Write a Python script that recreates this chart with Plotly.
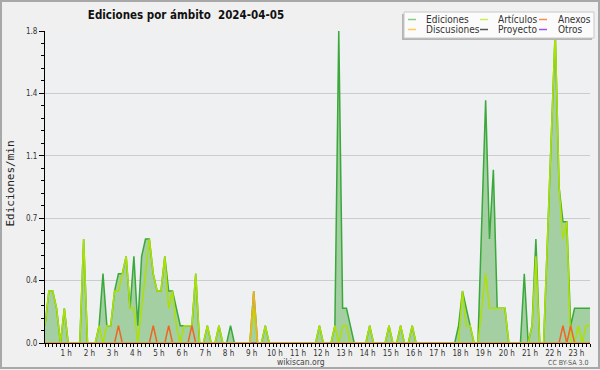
import plotly.graph_objects as go

# ---------------- data (10-minute bins, 00:00 .. 23:30) ----------------
series_names = ["Ediciones", "Artículos", "Anexos", "Discusiones", "Proyecto", "Otros"]

ediciones = [
    0.1, 0.3, 0.3, 0.2, 0.0, 0.2, 0.0, 0.0, 0.0, 0.0, 0.6, 0.0,
    0.0, 0.0, 0.1, 0.4, 0.1, 0.1, 0.3, 0.4, 0.4, 0.5, 0.2, 0.5,
    0.1, 0.5, 0.6, 0.6, 0.4, 0.3, 0.3, 0.5, 0.3, 0.3, 0.2, 0.1,
    0.1, 0.1, 0.1, 0.4, 0.0, 0.0, 0.1, 0.0, 0.0, 0.1, 0.0, 0.0,
    0.1, 0.0, 0.0, 0.0, 0.0, 0.0, 0.3, 0.0, 0.0, 0.1, 0.0, 0.0,
    0.0, 0.0, 0.0, 0.0, 0.0, 0.0, 0.0, 0.0, 0.0, 0.0, 0.0, 0.1,
    0.0, 0.0, 0.0, 0.1, 1.8, 0.2, 0.2, 0.1, 0.0, 0.0, 0.0, 0.0,
    0.1, 0.0, 0.0, 0.0, 0.0, 0.1, 0.0, 0.0, 0.1, 0.0, 0.0, 0.1,
    0.0, 0.0, 0.0, 0.0, 0.0, 0.0, 0.0, 0.0, 0.0, 0.0, 0.0, 0.1,
    0.3, 0.2, 0.1, 0.0, 0.0, 0.7, 1.4, 0.6, 1.0, 0.2, 0.2, 0.2,
    0.0, 0.0, 0.0, 0.0, 0.4, 0.0, 0.1, 0.6, 0.0, 0.0, 0.6, 1.2,
    1.8, 0.9, 0.7, 0.7, 0.1, 0.2, 0.2, 0.2, 0.2, 0.2,
]

articulos = [
    0.1, 0.3, 0.3, 0.2, 0.0, 0.2, 0.0, 0.0, 0.0, 0.0, 0.6, 0.0,
    0.0, 0.0, 0.1, 0.0, 0.1, 0.1, 0.3, 0.3, 0.4, 0.5, 0.2, 0.2,
    0.0, 0.2, 0.4, 0.6, 0.4, 0.3, 0.3, 0.5, 0.2, 0.3, 0.1, 0.0,
    0.1, 0.1, 0.1, 0.4, 0.0, 0.0, 0.1, 0.0, 0.0, 0.1, 0.0, 0.0,
    0.0, 0.0, 0.0, 0.0, 0.0, 0.0, 0.2, 0.0, 0.0, 0.1, 0.0, 0.0,
    0.0, 0.0, 0.0, 0.0, 0.0, 0.0, 0.0, 0.0, 0.0, 0.0, 0.0, 0.1,
    0.0, 0.0, 0.0, 0.1, 0.0, 0.1, 0.1, 0.0, 0.0, 0.0, 0.0, 0.0,
    0.1, 0.0, 0.0, 0.0, 0.0, 0.1, 0.0, 0.0, 0.1, 0.0, 0.0, 0.1,
    0.0, 0.0, 0.0, 0.0, 0.0, 0.0, 0.0, 0.0, 0.0, 0.0, 0.0, 0.0,
    0.3, 0.1, 0.1, 0.0, 0.0, 0.2, 0.4, 0.2, 0.2, 0.2, 0.2, 0.2,
    0.0, 0.0, 0.0, 0.0, 0.0, 0.0, 0.1, 0.5, 0.0, 0.0, 0.6, 1.2,
    1.8, 0.9, 0.6, 0.7, 0.0, 0.0, 0.1, 0.0, 0.1, 0.1,
]

anexos = [
    0.0, 0.0, 0.0, 0.0, 0.0, 0.0, 0.0, 0.0, 0.0, 0.0, 0.0, 0.0,
    0.0, 0.0, 0.0, 0.0, 0.0, 0.0, 0.0, 0.1, 0.0, 0.0, 0.0, 0.0,
    0.0, 0.0, 0.0, 0.0, 0.1, 0.0, 0.0, 0.0, 0.1, 0.0, 0.0, 0.0,
    0.0, 0.0, 0.1, 0.0, 0.0, 0.0, 0.0, 0.0, 0.0, 0.0, 0.0, 0.0,
    0.0, 0.0, 0.0, 0.0, 0.0, 0.0, 0.0, 0.0, 0.0, 0.0, 0.0, 0.0,
    0.0, 0.0, 0.0, 0.0, 0.0, 0.0, 0.0, 0.0, 0.0, 0.0, 0.0, 0.0,
    0.0, 0.0, 0.0, 0.0, 0.0, 0.0, 0.0, 0.0, 0.0, 0.0, 0.0, 0.0,
    0.0, 0.0, 0.0, 0.0, 0.0, 0.0, 0.0, 0.0, 0.0, 0.0, 0.0, 0.0,
    0.0, 0.0, 0.0, 0.0, 0.0, 0.0, 0.0, 0.0, 0.0, 0.0, 0.0, 0.0,
    0.0, 0.0, 0.0, 0.0, 0.0, 0.0, 0.0, 0.0, 0.0, 0.0, 0.0, 0.0,
    0.0, 0.0, 0.0, 0.0, 0.0, 0.0, 0.0, 0.0, 0.0, 0.0, 0.0, 0.0,
    0.0, 0.0, 0.1, 0.0, 0.1, 0.0, 0.0, 0.0, 0.0, 0.0,
]

discusiones = [
    0.0, 0.0, 0.0, 0.0, 0.0, 0.0, 0.0, 0.0, 0.0, 0.0, 0.0, 0.0,
    0.0, 0.0, 0.0, 0.0, 0.0, 0.0, 0.0, 0.0, 0.0, 0.0, 0.0, 0.0,
    0.0, 0.0, 0.0, 0.0, 0.0, 0.0, 0.0, 0.0, 0.0, 0.0, 0.0, 0.0,
    0.0, 0.0, 0.0, 0.0, 0.0, 0.0, 0.0, 0.0, 0.0, 0.0, 0.0, 0.0,
    0.0, 0.0, 0.0, 0.0, 0.0, 0.0, 0.3, 0.0, 0.0, 0.0, 0.0, 0.0,
    0.0, 0.0, 0.0, 0.0, 0.0, 0.0, 0.0, 0.0, 0.0, 0.0, 0.0, 0.0,
    0.0, 0.0, 0.0, 0.0, 0.0, 0.0, 0.0, 0.0, 0.0, 0.0, 0.0, 0.0,
    0.0, 0.0, 0.0, 0.0, 0.0, 0.0, 0.0, 0.0, 0.0, 0.0, 0.0, 0.0,
    0.0, 0.0, 0.0, 0.0, 0.0, 0.0, 0.0, 0.0, 0.0, 0.0, 0.0, 0.0,
    0.0, 0.0, 0.0, 0.0, 0.0, 0.0, 0.0, 0.0, 0.0, 0.0, 0.0, 0.0,
    0.0, 0.0, 0.0, 0.0, 0.0, 0.0, 0.0, 0.0, 0.0, 0.0, 0.0, 0.0,
    0.0, 0.0, 0.0, 0.0, 0.0, 0.0, 0.0, 0.0, 0.0, 0.0,
]

proyecto = [0.0 for _ in ediciones]
otros = [0.0 for _ in ediciones]

hour_labels = ["1 h", "2 h", "3 h", "4 h", "5 h", "6 h", "7 h", "8 h", "9 h", "10 h",
               "11 h", "12 h", "13 h", "14 h", "15 h", "16 h", "17 h", "18 h", "19 h",
               "20 h", "21 h", "22 h", "23 h"]
hour_positions = [6, 12, 18, 24, 30, 36, 42, 48, 54, 60, 66, 72, 78, 84, 90, 96,
                  102, 108, 114, 120, 126, 132, 138]

y_tickvals = [0.0, 0.36, 0.72, 1.08, 1.44, 1.8]
y_ticktext = ["0.0", "0.4", "0.7", "1.1", "1.4", "1.8"]

# ---------------- styling ----------------
line_colors = {"Ediciones": "#3aa83a", "Artículos": "#aee000", "Anexos": "#ee6622",
               "Discusiones": "#f0b020", "Proyecto": "#555555", "Otros": "#9944ee"}
legend_colors = ["#88cc88", "#c8ee55", "#ff8855", "#ffcc55", "#555555", "#9955ee"]

W, H = 600, 370
L, R, T, B = 45, 590, 31, 343
COND = "DejaVu Sans Condensed, Liberation Sans, sans-serif"


def pxx(xp):
    return (xp - L) / (R - L)


def pxy(yp):
    return (B - yp) / (B - T)


x = list(range(len(ediciones)))

fig = go.Figure()
fig.add_trace(go.Scatter(x=x, y=ediciones, mode="lines", fill="tozeroy",
                         fillcolor="#a3cfa3",
                         line=dict(color=line_colors["Ediciones"], width=1.5),
                         name="Ediciones", hoverinfo="skip"))
for name, vals in [("Proyecto", proyecto), ("Otros", otros), ("Artículos", articulos),
                   ("Anexos", anexos), ("Discusiones", discusiones)]:
    fig.add_trace(go.Scatter(x=x, y=vals, mode="lines",
                             line=dict(color=line_colors[name], width=1.5),
                             name=name, hoverinfo="skip"))

fig.update_layout(
    width=W, height=H,
    margin=dict(l=L, r=W - R, t=T, b=H - B),
    paper_bgcolor="#f0f0f0", plot_bgcolor="#eef0f2",
    showlegend=False,
    title=dict(text="<b>Ediciones por ámbito\u00a0 2024-04-05</b>",
               x=186 / W, xref="container", xanchor="center",
               y=1 - 15 / H, yref="container", yanchor="middle",
               font=dict(family=COND, size=11.5, color="#111111")),
)

fig.update_xaxes(
    range=[0, len(ediciones) - 1], showgrid=False, zeroline=False,
    showline=True, linecolor="black", linewidth=1,
    tickvals=hour_positions, ticktext=hour_labels,
    ticks="outside", ticklen=3, tickcolor="black", tickwidth=1,
    ticklabelshift=-2, ticklabelstandoff=-1,
    tickfont=dict(family=COND, size=8, color="#333333"),
    minor=dict(tick0=0, dtick=1, ticks="outside", ticklen=3, tickcolor="black",
               tickwidth=1, showgrid=False),
)
fig.update_yaxes(
    range=[0, 1.8], showgrid=True, gridcolor="#cccccc", gridwidth=1, zeroline=False,
    showline=True, linecolor="black", linewidth=1,
    tickvals=y_tickvals, ticktext=y_ticktext,
    ticks="outside", ticklen=5, tickcolor="black", tickwidth=1,
    tickfont=dict(family=COND, size=8, color="#333333"),
    minor=dict(tick0=0, dtick=0.072, ticks="outside", ticklen=3, tickcolor="black",
               tickwidth=1, showgrid=False),
)

shapes = []
annotations = []

# outer image border
shapes.append(dict(type="rect", xref="paper", yref="paper",
                   x0=pxx(1), x1=pxx(599), y0=pxy(1), y1=pxy(368),
                   line=dict(color="#a8a8a8", width=2), fillcolor="rgba(0,0,0,0)",
                   layer="above"))

# legend box with shadow
shapes.append(dict(type="rect", xref="paper", yref="paper",
                   x0=pxx(402), x1=pxx(592), y0=pxy(14), y1=pxy(40),
                   line=dict(width=0), fillcolor="#b4b4b4", layer="above"))
shapes.append(dict(type="rect", xref="paper", yref="paper",
                   x0=pxx(404), x1=pxx(594), y0=pxy(12), y1=pxy(38),
                   line=dict(color="#c8c8c8", width=1), fillcolor="#fbfbfb",
                   layer="above"))

col_swatch = [(408, 416), (480, 488), (539, 547)]
col_text = [424, 496, 556]
row_y = [19.5, 29.5]
for k, name in enumerate(series_names):
    r, c = divmod(k, 3)
    sx0, sx1 = col_swatch[c]
    shapes.append(dict(type="line", xref="paper", yref="paper",
                       x0=pxx(sx0), x1=pxx(sx1), y0=pxy(row_y[r]), y1=pxy(row_y[r]),
                       line=dict(color=legend_colors[k], width=1.5), layer="above"))
    annotations.append(dict(text=name, xref="paper", yref="paper",
                            x=pxx(col_text[c]), y=pxy(row_y[r]),
                            xanchor="left", yanchor="middle", showarrow=False,
                            font=dict(family=COND, size=10, color="#333333")))

# y axis title
annotations.append(dict(text="Ediciones/min", xref="paper", yref="paper",
                        x=pxx(9.5), y=pxy(184), textangle=-90,
                        xanchor="center", yanchor="middle", showarrow=False,
                        font=dict(family="DejaVu Sans Mono", size=11, color="#222222")))
# footer texts
annotations.append(dict(text="wikiscan.org", xref="paper", yref="paper",
                        x=pxx(301), y=pxy(361.5), xanchor="center", yanchor="middle",
                        showarrow=False, borderpad=0,
                        font=dict(family=COND, size=8.5, color="#444444")))
annotations.append(dict(text="CC BY-SA 3.0", xref="paper", yref="paper",
                        x=pxx(589), y=pxy(362.5), xanchor="right", yanchor="middle",
                        showarrow=False, borderpad=0,
                        font=dict(family=COND, size=7, color="#555555")))

fig.update_layout(shapes=shapes, annotations=annotations)

fig.write_html("out.html",
               config={"displayModeBar": False},
               post_script="document.body.style.margin='0px';"
                           "document.body.style.overflow='hidden';")
